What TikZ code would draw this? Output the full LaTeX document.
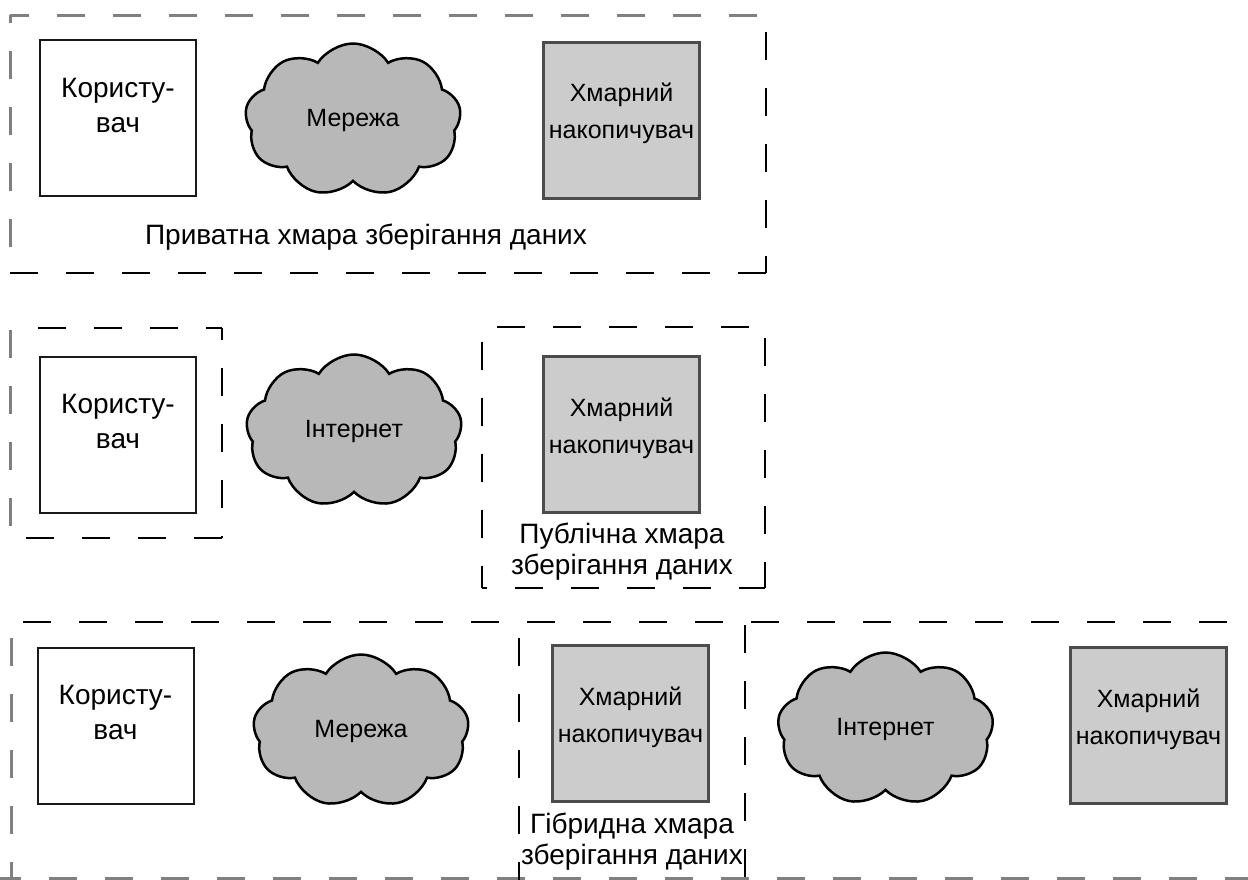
\documentclass[tikz,border=0pt]{standalone}
\usepackage{fontspec}
\setmainfont{Liberation Sans}
\usetikzlibrary{shapes.symbols,calc}
\begin{document}
\begin{tikzpicture}[x=1pt,y=-1pt,
  lbl/.style={font=\fontsize{25}{37}\selectfont, text=black, align=center, inner sep=0pt},
  biglbl/.style={font=\fontsize{28}{31}\selectfont, text=black, align=center, inner sep=0pt},
  userlbl/.style={font=\fontsize{28}{35}\selectfont, text=black, align=center, inner sep=0pt},
  userbox/.style={draw=black!90, line width=2pt, fill=white, minimum width=156pt, minimum height=156pt, inner sep=0pt},
  storebox/.style={draw=black!70, line width=3pt, fill=black!20, minimum width=156pt, minimum height=156pt, inner sep=0pt},
  netcloud/.style={cloud, cloud puffs=9, cloud puff arc=115, aspect=1.45, draw=black, line width=2.5pt,
    fill=black!28, minimum width=216pt, minimum height=153pt, inner sep=0pt,
    font=\fontsize{25}{36}\selectfont, text=black},
  grayedge/.style={draw=black!50, line width=3pt, dash pattern=on 28pt off 28pt},
  blackedge/.style={draw=black, line width=1.8pt, dash pattern=on 28pt off 28pt},
]
\useasboundingbox (0,0) rectangle (1248,879);

% --- private storage frame
\draw[grayedge, dash phase=9pt]  (10,15) -- (766,15);
\draw[grayedge, dash phase=20pt] (10,15) -- (10,273);
\draw[blackedge, dash phase=39pt] (766,15) -- (766,273);
\draw[blackedge] (766,273) -- (10,273);

% --- user frame (public case)
\draw[grayedge] (10,330) -- (10,538);
\draw[blackedge] (38,328) -- (222,328);
\draw[blackedge, dash phase=16pt] (222,328) -- (222,538);
\draw[blackedge] (222,538) -- (10,538);

% --- public storage frame
\draw[blackedge] (497,327) -- (765,327);
\draw[blackedge] (482,342) -- (482,588);
\draw[blackedge, dash phase=23pt] (482,588) -- (765,588);
\draw[blackedge, dash phase=45pt] (765,327) -- (765,588);

% --- hybrid frames
\draw[blackedge] (23,622) -- (1260,622);
\draw[grayedge] (11,638) -- (11,890);
\draw[grayedge] (-7,878) -- (1260,878);
\draw[blackedge] (519,638) -- (519,890);
\draw[blackedge] (745,625) -- (745,890);

% --- private cloud
\node[userbox] (u1) at (118,118) {};
\node[userlbl] (u1t) at ($(u1.north)+(0,66)$) {Користу-\\вач};
\node[netcloud] (n1) at (353,120) {Мережа};
\node[storebox] (s1) at (621.5,120) {};
\node[lbl] (s1t) at ($(s1.north)+(0,73)$) {Хмарний\\накопичувач};
\node[biglbl] (privlbl) at (366,237) {Приватна хмара зберігання даних};

% --- public cloud
\node[userbox] (u2) at (118,434.5) {};
\node[userlbl] (u2t) at ($(u2.north)+(0,66)$) {Користу-\\вач};
\node[netcloud] (n2) at (354,431) {Інтернет};
\node[storebox] (s2) at (621.5,434.5) {};
\node[lbl] (s2t) at ($(s2.north)+(0,73)$) {Хмарний\\накопичувач};
\node[biglbl] (publbl) at (622,552) {Публічна хмара\\зберігання даних};

% --- hybrid cloud
\node[userbox] (u3) at (115.5,725.5) {};
\node[userlbl] (u3t) at ($(u3.north)+(0,66)$) {Користу-\\вач};
\node[netcloud] (n3) at (361,731) {Мережа};
\node[storebox] (s3) at (630.5,723.5) {};
\node[lbl] (s3t) at ($(s3.north)+(0,73)$) {Хмарний\\накопичувач};
\node[biglbl] (hyblbl) at (632,842) {Гібридна хмара\\зберігання даних};
\node[netcloud] (n4) at (885.5,729) {Інтернет};
\node[storebox] (s4) at (1148.5,725.5) {};
\node[lbl] (s4t) at ($(s4.north)+(0,73)$) {Хмарний\\накопичувач};
\end{tikzpicture}
\end{document}
